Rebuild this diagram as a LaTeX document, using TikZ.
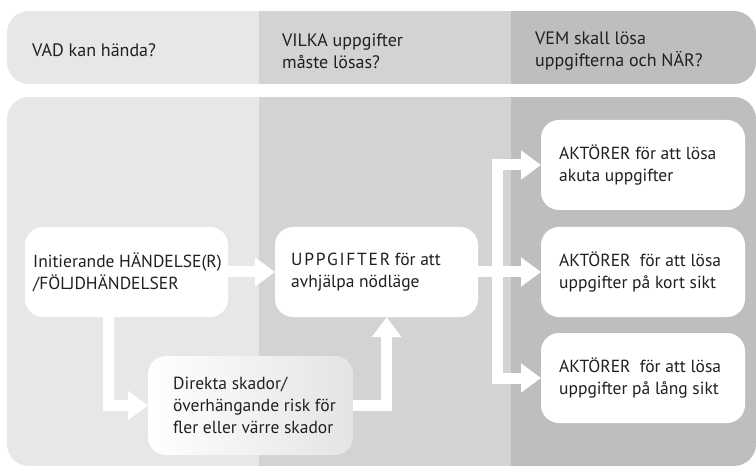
\documentclass[tikz,border=0pt]{standalone}
\usepackage{fontspec}
\setmainfont{PT Sans}
\usetikzlibrary{arrows.meta,calc}
\definecolor{colA}{HTML}{E6E7E8}
\definecolor{colB}{HTML}{D1D3D4}
\definecolor{colC}{HTML}{BCBEC0}
\definecolor{fadeend}{HTML}{E3E4E5}
\definecolor{ink}{HTML}{231F20}
\newcommand{\spaced}[1]{{\addfontfeature{LetterSpace=10}#1}}
\begin{document}
\begin{tikzpicture}[x=1pt,y=-1pt,
  txt/.style={font=\fontsize{17.5}{22}\selectfont, text=ink},
  box/.style={rectangle, rounded corners=18pt, fill=white,
    minimum height=90pt, outer sep=0pt, inner sep=0pt},
  boxtext/.style={txt, anchor=west, align=left, inner sep=0pt},
  head/.style={txt, font=\fontsize{18}{22}\selectfont, anchor=west,
    align=left, inner sep=0pt},
  flow/.style={draw=white, line width=11pt, line join=miter,
    -{Triangle[width=28pt,length=20pt]}}
]
\useasboundingbox (0,0) rectangle (756,476);

% column backgrounds: header band and body
\begin{scope}
  \clip[rounded corners=22pt] (7,11) rectangle (756,84);
  \fill[colA] (7,11) rectangle (259,84);
  \fill[colB] (259,11) rectangle (511,84);
  \fill[colC] (511,11) rectangle (756,84);
\end{scope}
\begin{scope}
  \clip[rounded corners=22pt] (7,97) rectangle (756,466);
  \fill[colA] (7,97) rectangle (259,466);
  \fill[colB] (259,97) rectangle (511,466);
  \fill[colC] (511,97) rectangle (756,466);
\end{scope}

% column headings
\node[head] (h1) at (32,50) {VAD kan hända?};
\node[head] (h2) at (282,51) {VILKA uppgifter\\måste lösas?};
\node[head] (h3) at (535,51) {VEM skall lösa\\uppgifterna och NÄR?};

% boxes
\node[box, minimum width=203pt] (I) at (126.5,272) {};
\node[box, minimum width=203pt] (U) at (376.5,272) {};
\node[box, fill=none, left color=white, right color=fadeend,
  minimum width=205pt, minimum height=99pt] (D) at (250.5,405.5) {};
\node[box, minimum width=204pt] (A1) at (643,165) {};
\node[box, minimum width=204pt] (A2) at (643,272) {};
\node[box, minimum width=204pt] (A3) at (643,378) {};

% box texts
\node[boxtext] (It) at ($(I.west)+(8,0)$)
  {Initierande HÄNDELSE(R)\\/FÖLJDHÄNDELSER};
\node[boxtext] (Ut) at ($(U.west)+(16,0)$)
  {\spaced{UPPGIFTER} för att\\avhjälpa nödläge};
\node[boxtext] (Dt) at ($(D.west)+(25,0)$)
  {Direkta skador/\\överhängande risk för\\fler eller värre skador};
\node[boxtext] (A1t) at ($(A1.west)+(18,0)$)
  {AKTÖRER för att lösa\\akuta uppgifter};
\node[boxtext] (A2t) at ($(A2.west)+(18,0)$)
  {AKTÖRER\ \ för att lösa\\uppgifter på kort sikt};
\node[boxtext] (A3t) at ($(A3.west)+(18,0)$)
  {AKTÖRER\ \ för att lösa\\uppgifter på lång sikt};

% connectors
\coordinate (Idown) at ($(I.south west)!0.41!(I.south east)$);
\coordinate (Uup) at ($(U.south west)!0.55!(U.south east)$);
\coordinate (split) at ($(U.east)+(19,0)$);
\draw[flow] (I.east) -- (U.west);
\draw[flow] (Idown) |- (D.west);
\draw[flow] (D.east) -| (Uup);
\draw[flow] (U.east) -- (split) |- (A1.west);
\draw[flow] (U.east) -- (A2.west);
\draw[flow] (U.east) -- (split) |- (A3.west);
\end{tikzpicture}
\end{document}
